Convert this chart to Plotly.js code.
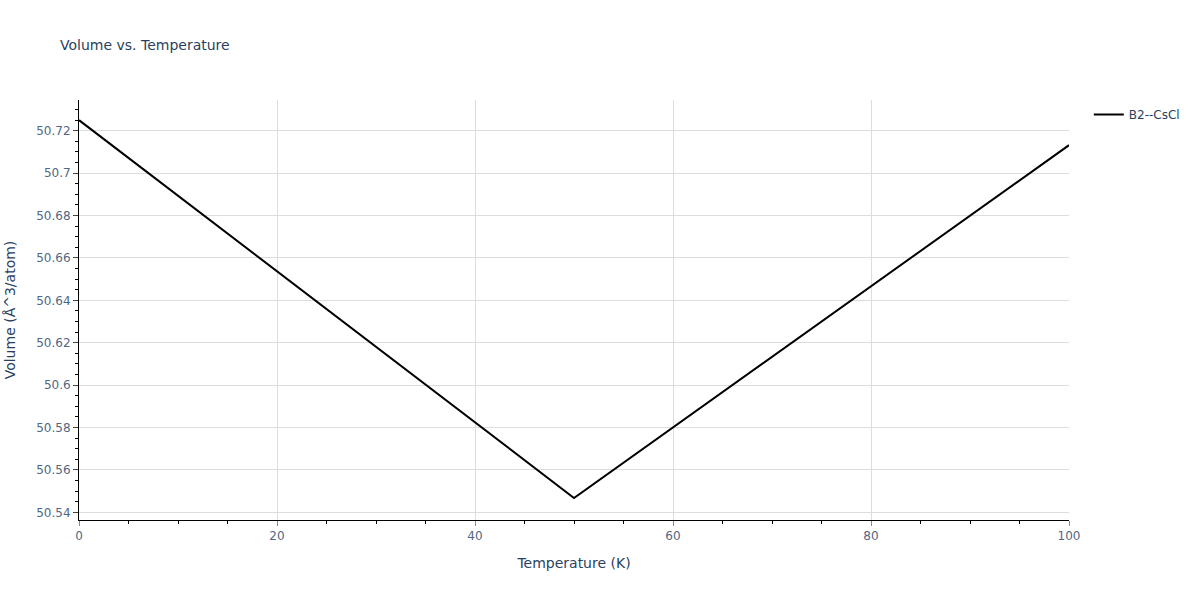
<!DOCTYPE html>
<html>
<head>
<meta charset="utf-8">
<script src="https://cdn.plot.ly/plotly-3.0.1.min.js"></script>
<style>html,body{margin:0;padding:0;}#chart{width:1200px;height:600px;}</style>
</head>
<body>
<div id="chart"></div>
<script>
const temperature = [0, 50, 100];
const volume = [50.725, 50.5468, 50.7132];
const seriesName = "B2--CsCl";

const trace = {
  x: temperature,
  y: volume,
  type: "scatter",
  mode: "lines",
  name: seriesName,
  line: {color: "black", width: 2}
};

const layout = {
  width: 1200,
  height: 600,
  title: {text: "Volume vs. Temperature", x: 0.05, xanchor: "left", y: 0.925, yanchor: "middle", font: {size: 14, color: "#2a3f5f"}},
  font: {family: '"DejaVu Sans", verdana, arial, sans-serif', size: 12, color: "#2a3f5f"},
  paper_bgcolor: "white",
  plot_bgcolor: "white",
  margin: {l: 79, r: 131, t: 100, b: 80},
  showlegend: true,
  legend: {x: 1.02, y: 1, xanchor: "left", yanchor: "top", font: {size: 12}},
  xaxis: {
    title: {text: "Temperature (K)", font: {size: 14}, standoff: 15},
    automargin: false,
    range: [0, 100],
    dtick: 20,
    tickfont: {color: "#506784"},
    showline: true, linecolor: "black", linewidth: 1,
    ticks: "outside", ticklen: 5, tickcolor: "#888",
    gridcolor: "#dddddd", zeroline: false,
    minor: {dtick: 5, ticks: "outside", ticklen: 3, tickcolor: "black", showgrid: false}
  },
  yaxis: {
    title: {text: "Volume (Å^3/atom)", font: {size: 14}, standoff: 17},
    automargin: false,
    range: [50.5364, 50.7345],
    dtick: 0.02,
    tickfont: {color: "#506784"},
    showline: true, linecolor: "black", linewidth: 1,
    ticks: "outside", ticklen: 5, tickcolor: "#444",
    gridcolor: "#dddddd", zeroline: false,
    minor: {dtick: 0.005, ticks: "outside", ticklen: 3, tickcolor: "black", showgrid: false}
  }
};

Plotly.newPlot("chart", [trace], layout, {displayModeBar: false});
</script>
</body>
</html>
